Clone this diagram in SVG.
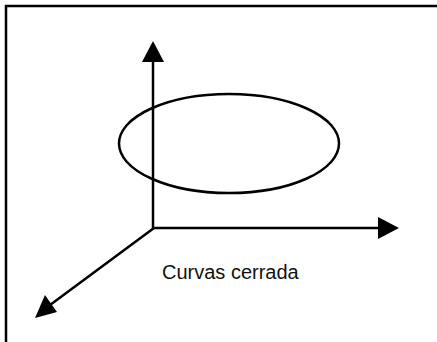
<svg xmlns="http://www.w3.org/2000/svg" width="437" height="342" viewBox="0 0 437 342">
<style>
.ax{stroke:#000;stroke-width:2.5;fill:none}
.hd{fill:#000}
.lbl{font-family:"Liberation Sans",Arial,sans-serif;font-size:20px;fill:#111}
</style>
<rect width="437" height="342" fill="#fff"/>
<g id="frame">
<path d="M6,342 V6 H437" fill="none" stroke="#000" stroke-width="2.5"/>
</g>
<g id="curve">
<ellipse cx="229" cy="143.5" rx="110" ry="49.5" class="ax"/>
</g>
<g id="connectors">
<line class="ax" x1="153" y1="229" x2="153" y2="60"/>
<polygon class="hd" points="153,41 142,62 164,62"/>
<line class="ax" x1="152" y1="228" x2="380" y2="228"/>
<polygon class="hd" points="399,228 378,217 378,239"/>
<line class="ax" x1="154" y1="228" x2="50" y2="305"/>
<polygon class="hd" points="35,318 45,295 57,312"/>
</g>
<g id="label">
<text class="lbl" x="162" y="279">Curvas cerrada</text>
</g>
</svg>
